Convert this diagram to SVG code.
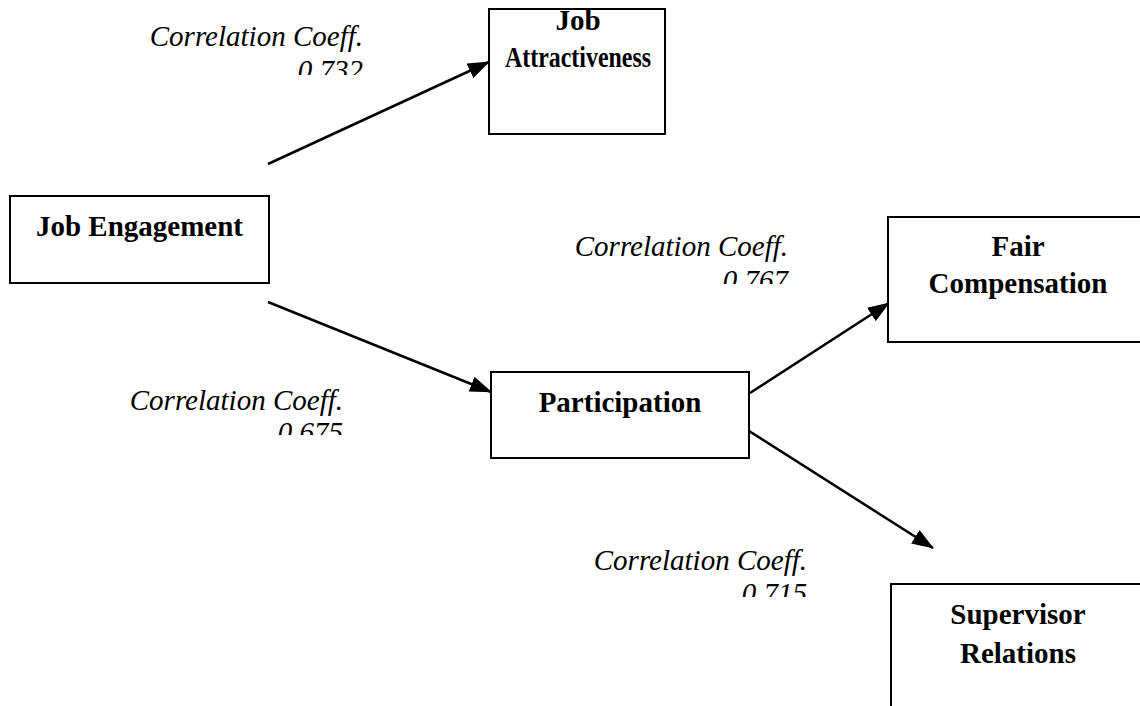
<svg xmlns="http://www.w3.org/2000/svg" width="1140" height="706" viewBox="0 0 1140 706">
  <style>
    .box { fill: #ffffff; stroke: #000000; stroke-width: 2; }
    .node-label { font-family: "Liberation Serif", "Times New Roman", serif; font-weight: bold; font-size: 29px; fill: #000000; text-anchor: middle; }
    .coef { font-family: "Liberation Serif", "Times New Roman", serif; font-style: italic; font-size: 29px; fill: #000000; text-anchor: end; }
    .conn { stroke: #000000; stroke-width: 2.5; fill: none; marker-end: url(#arrow); }
  </style>
  <defs>
    <marker id="arrow" markerUnits="userSpaceOnUse" markerWidth="22" markerHeight="16" refX="21" refY="8" orient="auto">
      <path d="M0,0 L22,8 L0,16 z" fill="#000000"/>
    </marker>
    <clipPath id="clip1"><rect x="0" y="0" width="1140" height="75"/></clipPath>
    <clipPath id="clip2"><rect x="0" y="0" width="1140" height="284"/></clipPath>
    <clipPath id="clip3"><rect x="0" y="0" width="1140" height="597"/></clipPath>
    <clipPath id="clip4"><rect x="0" y="0" width="1140" height="435"/></clipPath>
  </defs>
  <rect width="1140" height="706" fill="#ffffff"/>

  <g id="connectors">
    <line class="conn" x1="268" y1="164" x2="489" y2="62"/>
    <line class="conn" x1="268" y1="302" x2="491" y2="392"/>
    <line class="conn" x1="750" y1="393" x2="889" y2="303"/>
    <line class="conn" x1="749" y1="431" x2="933" y2="548"/>
  </g>

  <g id="node-job-attractiveness">
    <rect class="box" x="489" y="9" width="176" height="125"/>
    <text class="node-label" x="578" y="30">Job</text>
    <text class="node-label" x="578" y="67" textLength="146" lengthAdjust="spacingAndGlyphs">Attractiveness</text>
  </g>

  <g id="node-job-engagement">
    <rect class="box" x="10" y="196" width="259" height="87"/>
    <text class="node-label" x="139.5" y="236">Job Engagement</text>
  </g>

  <g id="node-participation">
    <rect class="box" x="491" y="372" width="258" height="86"/>
    <text class="node-label" x="620" y="412">Participation</text>
  </g>

  <g id="node-fair-compensation">
    <rect class="box" x="888" y="217" width="260" height="125"/>
    <text class="node-label" x="1018" y="256">Fair</text>
    <text class="node-label" x="1018" y="293">Compensation</text>
  </g>

  <g id="node-supervisor-relations">
    <rect class="box" x="891" y="584" width="260" height="130"/>
    <text class="node-label" x="1018" y="624">Supervisor</text>
    <text class="node-label" x="1018" y="663">Relations</text>
  </g>

  <g id="label-0732">
    <text class="coef" x="363" y="46">Correlation Coeff.</text>
    <text class="coef" x="363" y="80" clip-path="url(#clip1)">0.732</text>
  </g>
  <g id="label-0767">
    <text class="coef" x="788" y="256">Correlation Coeff.</text>
    <text class="coef" x="788" y="290" clip-path="url(#clip2)">0.767</text>
  </g>
  <g id="label-0715">
    <text class="coef" x="807" y="570">Correlation Coeff.</text>
    <text class="coef" x="807" y="603" clip-path="url(#clip3)">0.715</text>
  </g>
  <g id="label-0675">
    <text class="coef" x="343" y="410">Correlation Coeff.</text>
    <text class="coef" x="343" y="442" clip-path="url(#clip4)">0.675</text>
  </g>
</svg>
